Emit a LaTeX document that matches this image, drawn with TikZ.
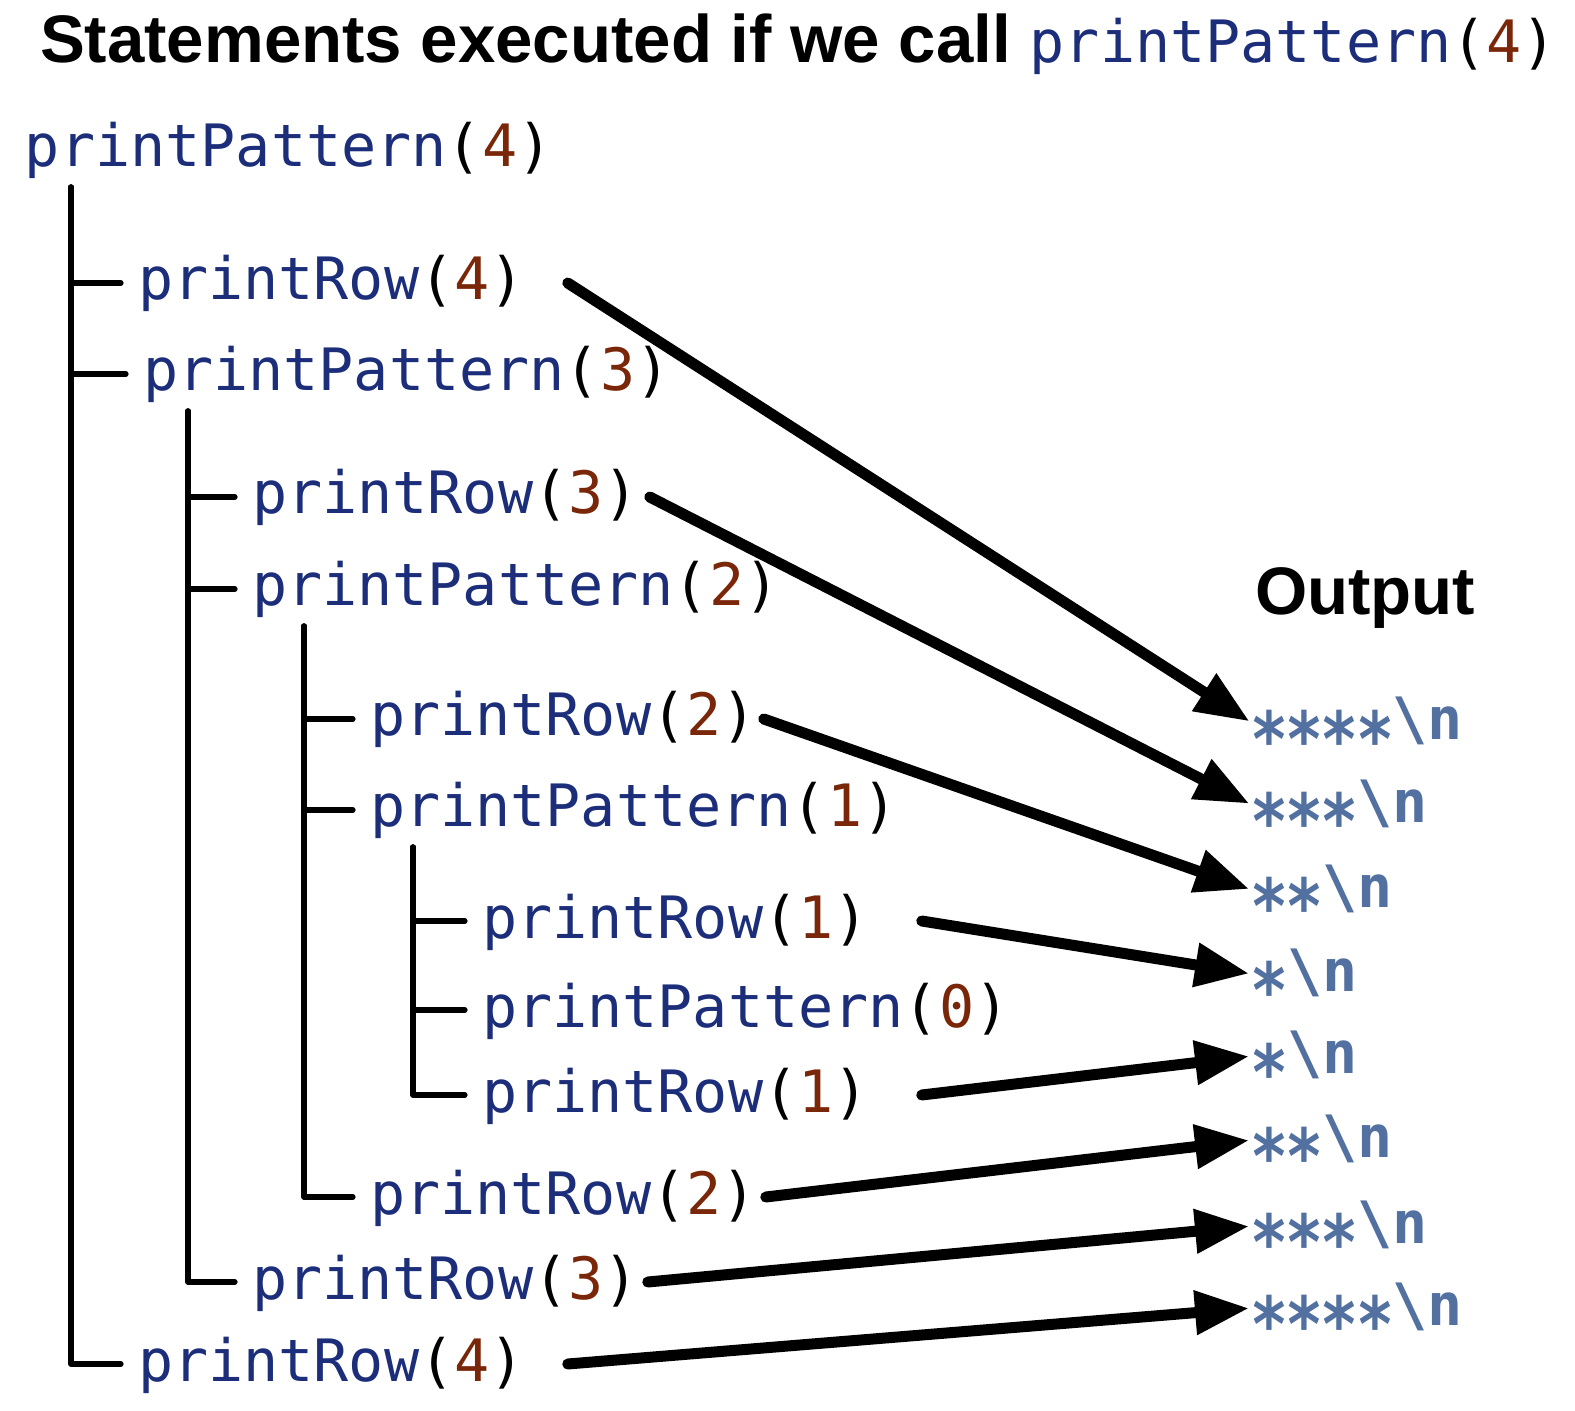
\documentclass[tikz,border=0pt]{standalone}
\usepackage{fontspec}
\setmainfont{Liberation Sans}
\setmonofont{DejaVu Sans Mono}
\usepackage{xcolor}
\usetikzlibrary{arrows.meta}

\definecolor{fnblue}{RGB}{28,46,122}
\definecolor{argbrown}{RGB}{122,38,8}
\definecolor{outblue}{RGB}{82,112,160}

\newcommand{\codefont}{\fontsize{29.2pt}{32pt}\selectfont\ttfamily}
\newcommand{\call}[2]{\textcolor{fnblue}{#1}(\textcolor{argbrown}{#2})}
\newcommand{\outstar}{\makebox[0.602em]{\raisebox{-0.45em}{\scalebox{1.08}[1.3]{*}}}}

\begin{document}
\begin{tikzpicture}[x=0.5pt, y=-0.5pt,
  every node/.style={inner sep=0pt, outer sep=0pt, anchor=base west},
  code/.style={font=\codefont, text height=22pt, text depth=5pt},
  outtext/.style={font=\codefont\bfseries, text=outblue, text height=22pt, text depth=5pt},
  head/.style={font=\fontsize{33.6pt}{36pt}\selectfont\bfseries},
  tree/.style={line width=2.6pt, line cap=round, line join=round},
  arr/.style={line width=5.5pt, line cap=round, -{Triangle[length=27pt,width=21pt]}, shorten >=1.5pt}]

\useasboundingbox (0,0) rectangle (1575,1411);

\node[head] (title) at (40,63) {Statements executed if we call {\codefont\mdseries\call{printPattern}{4}}};
\node[head] (outlabel) at (1255,615) {Output};

% calls
\node[code] (pp4) at (25,167) {\call{printPattern}{4}};
\node[code] (r4a) at (138,300) {\call{printRow}{4}};
\node[code] (pp3) at (143,391) {\call{printPattern}{3}};
\node[code] (r3a) at (252,514) {\call{printRow}{3}};
\node[code] (pp2) at (252,606) {\call{printPattern}{2}};
\node[code] (r2a) at (370,736) {\call{printRow}{2}};
\node[code] (pp1) at (370,827) {\call{printPattern}{1}};
\node[code] (r1a) at (482,938) {\call{printRow}{1}};
\node[code] (pp0) at (482,1027) {\call{printPattern}{0}};
\node[code] (r1b) at (482,1112) {\call{printRow}{1}};
\node[code] (r2b) at (370,1214) {\call{printRow}{2}};
\node[code] (r3b) at (252,1299) {\call{printRow}{3}};
\node[code] (r4b) at (138,1381) {\call{printRow}{4}};

% output lines
\node[outtext] (o1) at (1252,740) {\outstar\outstar\outstar\outstar\textbackslash n};
\node[outtext] (o2) at (1252,822) {\outstar\outstar\outstar\textbackslash n};
\node[outtext] (o3) at (1252,907) {\outstar\outstar\textbackslash n};
\node[outtext] (o4) at (1252,991) {\outstar\textbackslash n};
\node[outtext] (o5) at (1252,1073) {\outstar\textbackslash n};
\node[outtext] (o6) at (1252,1157) {\outstar\outstar\textbackslash n};
\node[outtext] (o7) at (1252,1243) {\outstar\outstar\outstar\textbackslash n};
\node[outtext] (o8) at (1252,1325) {\outstar\outstar\outstar\outstar\textbackslash n};

% tree stems
\coordinate (s4) at ([xshift=23pt,yshift=-5pt]pp4.south west);
\coordinate (s3) at ([xshift=22.5pt,yshift=-5pt]pp3.south west);
\coordinate (s2) at ([xshift=26pt,yshift=-5pt]pp2.south west);
\coordinate (s1) at ([xshift=21.5pt,yshift=-5pt]pp1.south west);

\draw[tree] (s4) |- ([xshift=-8.5pt]r4a.west);
\draw[tree] (s4) |- ([xshift=-8.5pt]pp3.west);
\draw[tree] (s4) |- ([xshift=-8.5pt]r4b.west);

\draw[tree] (s3) |- ([xshift=-8.5pt]r3a.west);
\draw[tree] (s3) |- ([xshift=-8.5pt]pp2.west);
\draw[tree] (s3) |- ([xshift=-8.5pt]r3b.west);

\draw[tree] (s2) |- ([xshift=-8.5pt]r2a.west);
\draw[tree] (s2) |- ([xshift=-8.5pt]pp1.west);
\draw[tree] (s2) |- ([xshift=-8.5pt]r2b.west);

\draw[tree] (s1) |- ([xshift=-8.5pt]r1a.west);
\draw[tree] (s1) |- ([xshift=-8.5pt]pp0.west);
\draw[tree] (s1) |- ([xshift=-8.5pt]r1b.west);

% printRow calls to their output
\draw[arr] ([xshift=21.5pt]r4a.east) -- (o1.west);
\draw[arr] ([xshift=5.5pt]r3a.east) -- (o2.west);
\draw[arr] ([xshift=3.5pt]r2a.east) -- (o3.west);
\draw[arr] ([xshift=26.5pt]r1a.east) -- (o4.west);
\draw[arr] ([xshift=26.5pt]r1b.east) -- (o5.west);
\draw[arr] ([xshift=4.5pt]r2b.east) -- (o6.west);
\draw[arr] ([xshift=4.5pt]r3b.east) -- (o7.west);
\draw[arr] ([xshift=21.5pt]r4b.east) -- (o8.west);
\end{tikzpicture}
\end{document}
